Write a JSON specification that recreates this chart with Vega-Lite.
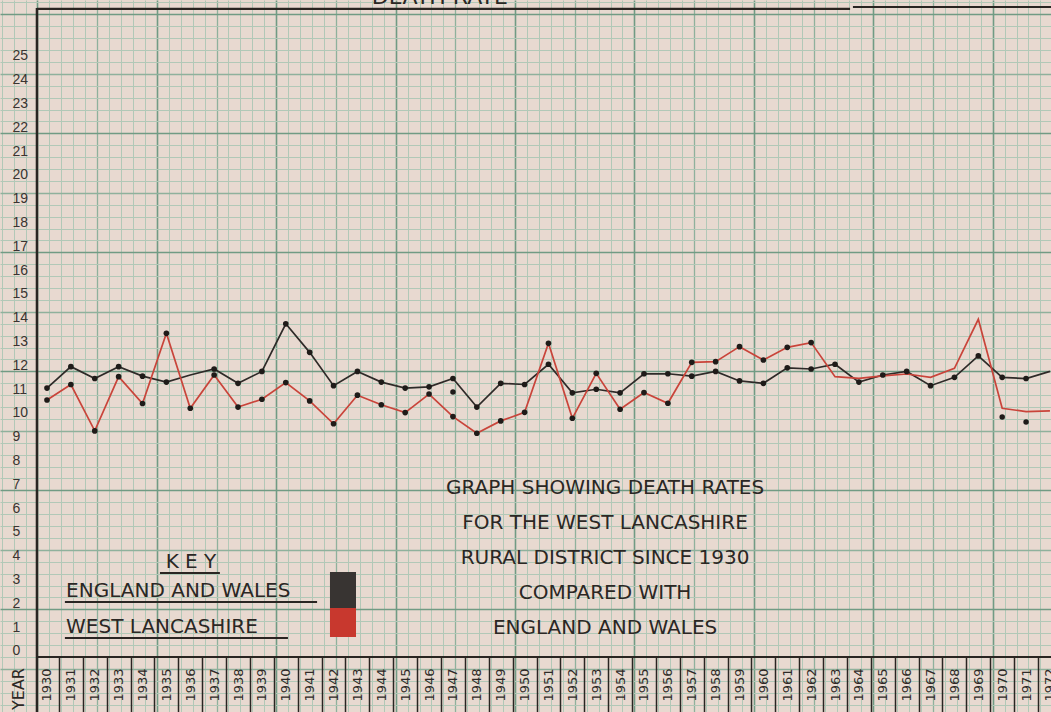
{
  "$schema": "https://vega.github.io/schema/vega-lite/v6.json",
  "width": 1051,
  "height": 712,
  "autosize": {"type": "none"},
  "padding": 0,
  "background": "#e8d9d0",
  "config": {"view": {"stroke": null}, "axis": {"domain": false, "title": null}},
  "datasets": {
    "rates": [
      {"year": 1930, "series": "England and Wales", "rate": 11.3},
      {"year": 1931, "series": "England and Wales", "rate": 12.2},
      {"year": 1932, "series": "England and Wales", "rate": 11.7},
      {"year": 1933, "series": "England and Wales", "rate": 12.2},
      {"year": 1934, "series": "England and Wales", "rate": 11.8},
      {"year": 1935, "series": "England and Wales", "rate": 11.55},
      {"year": 1936, "series": "England and Wales", "rate": 11.85},
      {"year": 1937, "series": "England and Wales", "rate": 12.1},
      {"year": 1938, "series": "England and Wales", "rate": 11.5},
      {"year": 1939, "series": "England and Wales", "rate": 12.0},
      {"year": 1940, "series": "England and Wales", "rate": 14.0},
      {"year": 1941, "series": "England and Wales", "rate": 12.8},
      {"year": 1942, "series": "England and Wales", "rate": 11.4},
      {"year": 1943, "series": "England and Wales", "rate": 12.0},
      {"year": 1944, "series": "England and Wales", "rate": 11.55},
      {"year": 1945, "series": "England and Wales", "rate": 11.3},
      {"year": 1946, "series": "England and Wales", "rate": 11.35},
      {"year": 1947, "series": "England and Wales", "rate": 11.7},
      {"year": 1948, "series": "England and Wales", "rate": 10.5},
      {"year": 1949, "series": "England and Wales", "rate": 11.5},
      {"year": 1950, "series": "England and Wales", "rate": 11.45},
      {"year": 1951, "series": "England and Wales", "rate": 12.3},
      {"year": 1952, "series": "England and Wales", "rate": 11.1},
      {"year": 1953, "series": "England and Wales", "rate": 11.25},
      {"year": 1954, "series": "England and Wales", "rate": 11.1},
      {"year": 1955, "series": "England and Wales", "rate": 11.9},
      {"year": 1956, "series": "England and Wales", "rate": 11.9},
      {"year": 1957, "series": "England and Wales", "rate": 11.8},
      {"year": 1958, "series": "England and Wales", "rate": 12.0},
      {"year": 1959, "series": "England and Wales", "rate": 11.6},
      {"year": 1960, "series": "England and Wales", "rate": 11.5},
      {"year": 1961, "series": "England and Wales", "rate": 12.15},
      {"year": 1962, "series": "England and Wales", "rate": 12.1},
      {"year": 1963, "series": "England and Wales", "rate": 12.3},
      {"year": 1964, "series": "England and Wales", "rate": 11.55},
      {"year": 1965, "series": "England and Wales", "rate": 11.85},
      {"year": 1966, "series": "England and Wales", "rate": 12.0},
      {"year": 1967, "series": "England and Wales", "rate": 11.4},
      {"year": 1968, "series": "England and Wales", "rate": 11.75},
      {"year": 1969, "series": "England and Wales", "rate": 12.65},
      {"year": 1970, "series": "England and Wales", "rate": 11.75},
      {"year": 1971, "series": "England and Wales", "rate": 11.7},
      {"year": 1972, "series": "England and Wales", "rate": 12.0},
      {"year": 1930, "series": "West Lancashire", "rate": 10.8},
      {"year": 1931, "series": "West Lancashire", "rate": 11.45},
      {"year": 1932, "series": "West Lancashire", "rate": 9.5},
      {"year": 1933, "series": "West Lancashire", "rate": 11.78},
      {"year": 1934, "series": "West Lancashire", "rate": 10.65},
      {"year": 1935, "series": "West Lancashire", "rate": 13.6},
      {"year": 1936, "series": "West Lancashire", "rate": 10.45},
      {"year": 1937, "series": "West Lancashire", "rate": 11.85},
      {"year": 1938, "series": "West Lancashire", "rate": 10.5},
      {"year": 1939, "series": "West Lancashire", "rate": 10.83},
      {"year": 1940, "series": "West Lancashire", "rate": 11.53},
      {"year": 1941, "series": "West Lancashire", "rate": 10.76},
      {"year": 1942, "series": "West Lancashire", "rate": 9.8},
      {"year": 1943, "series": "West Lancashire", "rate": 11.0},
      {"year": 1944, "series": "West Lancashire", "rate": 10.6},
      {"year": 1945, "series": "West Lancashire", "rate": 10.27},
      {"year": 1946, "series": "West Lancashire", "rate": 11.05},
      {"year": 1947, "series": "West Lancashire", "rate": 10.1},
      {"year": 1948, "series": "West Lancashire", "rate": 9.4},
      {"year": 1949, "series": "West Lancashire", "rate": 9.92},
      {"year": 1950, "series": "West Lancashire", "rate": 10.28},
      {"year": 1951, "series": "West Lancashire", "rate": 13.18},
      {"year": 1952, "series": "West Lancashire", "rate": 10.03},
      {"year": 1953, "series": "West Lancashire", "rate": 11.92},
      {"year": 1954, "series": "West Lancashire", "rate": 10.41},
      {"year": 1955, "series": "West Lancashire", "rate": 11.11},
      {"year": 1956, "series": "West Lancashire", "rate": 10.66},
      {"year": 1957, "series": "West Lancashire", "rate": 12.38},
      {"year": 1958, "series": "West Lancashire", "rate": 12.41},
      {"year": 1959, "series": "West Lancashire", "rate": 13.04},
      {"year": 1960, "series": "West Lancashire", "rate": 12.48},
      {"year": 1961, "series": "West Lancashire", "rate": 13.01},
      {"year": 1962, "series": "West Lancashire", "rate": 13.21},
      {"year": 1963, "series": "West Lancashire", "rate": 11.78},
      {"year": 1964, "series": "West Lancashire", "rate": 11.71},
      {"year": 1965, "series": "West Lancashire", "rate": 11.81},
      {"year": 1966, "series": "West Lancashire", "rate": 11.89},
      {"year": 1967, "series": "West Lancashire", "rate": 11.75},
      {"year": 1968, "series": "West Lancashire", "rate": 12.13},
      {"year": 1969, "series": "West Lancashire", "rate": 14.19},
      {"year": 1970, "series": "West Lancashire", "rate": 10.45},
      {"year": 1971, "series": "West Lancashire", "rate": 10.31},
      {"year": 1972, "series": "West Lancashire", "rate": 10.34}
    ],
    "stray": [
      {"year": 1947, "rate": 11.13},
      {"year": 1970, "rate": 10.08},
      {"year": 1971, "rate": 9.87}
    ]
  },
  "resolve": {"axis": {"x": "independent", "y": "independent"}},
  "layer": [
    {
      "data": {"values": [{}]},
      "mark": {"type": "point", "opacity": 0},
      "encoding": {
        "x": {
          "datum": 1950, "type": "quantitative",
          "scale": {"domain": [1928.032, 1972.044], "nice": false, "zero": false},
          "axis": {
            "orient": "bottom", "grid": true, "gridColor": "#b2c8b7", "gridWidth": 1, "gridOpacity": 1,
            "labels": false, "ticks": false, "domain": false, "title": null,
            "values": [1928.1,1928.6,1929.1,1930.1,1930.6,1931.1,1931.6,1932.6,1933.1,1933.6,1934.1,1935.1,1935.6,1936.1,1936.6,1937.6,1938.1,1938.6,1939.1,1940.1,1940.6,1941.1,1941.6,1942.6,1943.1,1943.6,1944.1,1945.1,1945.6,1946.1,1946.6,1947.6,1948.1,1948.6,1949.1,1950.1,1950.6,1951.1,1951.6,1952.6,1953.1,1953.6,1954.1,1955.1,1955.6,1956.1,1956.6,1957.6,1958.1,1958.6,1959.1,1960.1,1960.6,1961.1,1961.6,1962.6,1963.1,1963.6,1964.1,1965.1,1965.6,1966.1,1966.6,1967.6,1968.1,1968.6,1969.1,1970.1,1970.6,1971.1,1971.6]
          }
        },
        "y": {
          "datum": 10, "type": "quantitative",
          "scale": {"domain": [-2.311, 27.605], "nice": false, "zero": false},
          "axis": {
            "orient": "left", "grid": true, "gridColor": "#b2c8b7", "gridWidth": 1, "gridOpacity": 1,
            "labels": false, "ticks": false, "domain": false, "title": null,
            "values": [-2,-1.5,-1,0,0.5,1,1.5,2.5,3,3.5,4,5,5.5,6,6.5,7.5,8,8.5,9,10,10.5,11,11.5,12.5,13,13.5,14,15,15.5,16,16.5,17.5,18,18.5,19,20,20.5,21,21.5,22.5,23,23.5,24,25,25.5,26,26.5,27.5]
          }
        }
      }
    },
    {
      "data": {"values": [{}]},
      "mark": {"type": "point", "opacity": 0},
      "encoding": {
        "x": {
          "datum": 1950, "type": "quantitative",
          "scale": {"domain": [1928.032, 1972.044], "nice": false, "zero": false},
          "axis": {
            "orient": "bottom", "grid": true, "gridColor": "#8fb19c", "gridWidth": 1.3, "gridOpacity": 1,
            "labels": false, "ticks": false, "domain": false, "title": null,
            "values": [1932.1,1937.1,1942.1,1947.1,1952.1,1957.1,1962.1,1967.1]
          }
        },
        "y": {
          "datum": 10, "type": "quantitative",
          "scale": {"domain": [-2.311, 27.605], "nice": false, "zero": false},
          "axis": {
            "orient": "left", "grid": true, "gridColor": "#8fb19c", "gridWidth": 1.3, "gridOpacity": 1,
            "labels": false, "ticks": false, "domain": false, "title": null,
            "values": [-0.5,4.5,9.5,14.5,19.5,24.5]
          }
        }
      }
    },
    {
      "data": {"values": [{}]},
      "mark": {"type": "point", "opacity": 0},
      "encoding": {
        "x": {
          "datum": 1950, "type": "quantitative",
          "scale": {"domain": [1928.032, 1972.044], "nice": false, "zero": false},
          "axis": {
            "orient": "bottom", "grid": true, "gridColor": "#719b84", "gridWidth": 1.6, "gridOpacity": 1,
            "labels": false, "ticks": false, "domain": false, "title": null,
            "values": [1929.6,1934.6,1939.6,1944.6,1949.6,1954.6,1959.6,1964.6,1969.6]
          }
        },
        "y": {
          "datum": 10, "type": "quantitative",
          "scale": {"domain": [-2.311, 27.605], "nice": false, "zero": false},
          "axis": {
            "orient": "left", "grid": true, "gridColor": "#719b84", "gridWidth": 1.6, "gridOpacity": 1,
            "labels": false, "ticks": false, "domain": false, "title": null,
            "values": [2,7,12,17,22,27]
          }
        }
      }
    },
    {
      "data": {"name": "rates"},
      "mark": {"type": "line", "strokeWidth": 1.7},
      "encoding": {
        "x": {
          "field": "year", "type": "quantitative",
          "scale": {"domain": [1928.032, 1972.044], "nice": false, "zero": false},
          "axis": null
        },
        "y": {
          "field": "rate", "type": "quantitative",
          "scale": {"domain": [-2.311, 27.605], "nice": false, "zero": false},
          "axis": null
        },
        "color": {
          "field": "series", "type": "nominal",
          "scale": {"domain": ["England and Wales", "West Lancashire"], "range": ["#2e2a28", "#c9443a"]},
          "legend": null
        }
      }
    },
    {
      "data": {"name": "rates"},
      "transform": [{"filter": "datum.series === 'England and Wales' ? (datum.year !== 1936 && datum.year !== 1972) : datum.year <= 1962"}],
      "mark": {"type": "circle", "size": 32, "color": "#1f1b19", "opacity": 1},
      "encoding": {
        "x": {
          "field": "year", "type": "quantitative",
          "scale": {"domain": [1928.032, 1972.044], "nice": false, "zero": false},
          "axis": {
            "orient": "bottom", "offset": -55, "grid": false, "ticks": false, "tickSize": 0, "domain": false, "title": null,
            "values": [1930,1931,1932,1933,1934,1935,1936,1937,1938,1939,1940,1941,1942,1943,1944,1945,1946,1947,1948,1949,1950,1951,1952,1953,1954,1955,1956,1957,1958,1959,1960,1961,1962,1963,1964,1965,1966,1967,1968,1969,1970,1971,1972],
            "format": "d", "labelAngle": -90, "labelAlign": "right", "labelBaseline": "middle", "labelPadding": 11,
            "labelFont": "DejaVu Sans", "labelFontSize": 13, "labelColor": "#2f2a27",
            "labelOverlap": false, "labelFlush": false, "labelBound": false
          }
        },
        "y": {
          "field": "rate", "type": "quantitative",
          "scale": {"domain": [-2.311, 27.605], "nice": false, "zero": false},
          "axis": {
            "orient": "left", "offset": -37, "grid": false, "ticks": false, "tickSize": 0, "domain": false, "title": null,
            "values": [0,1,2,3,4,5,6,7,8,9,10,11,12,13,14,15,16,17,18,19,20,21,22,23,24,25],
            "labelAlign": "left", "labelPadding": 25, "labelOffset": -6, "labelBaseline": "middle",
            "labelFont": "Liberation Sans", "labelFontSize": 14, "labelColor": "#3a3431",
            "labelOverlap": false, "labelFlush": false, "labelBound": false
          }
        }
      }
    },
    {
      "data": {"name": "stray"},
      "mark": {"type": "circle", "size": 30, "color": "#1f1b19", "opacity": 1},
      "encoding": {
        "x": {
          "field": "year", "type": "quantitative",
          "scale": {"domain": [1928.032, 1972.044], "nice": false, "zero": false},
          "axis": {
            "orient": "bottom", "offset": -55, "grid": false, "labels": false, "ticks": true, "tickSize": 55,
            "tickWidth": 1.5, "tickColor": "#2a2522", "domain": false, "title": null,
            "values": [1930.5,1931.5,1932.5,1933.5,1934.5,1935.5,1936.5,1937.5,1938.5,1939.5,1940.5,1941.5,1942.5,1943.5,1944.5,1945.5,1946.5,1947.5,1948.5,1949.5,1950.5,1951.5,1952.5,1953.5,1954.5,1955.5,1956.5,1957.5,1958.5,1959.5,1960.5,1961.5,1962.5,1963.5,1964.5,1965.5,1966.5,1967.5,1968.5,1969.5,1970.5,1971.5]
          }
        },
        "y": {
          "field": "rate", "type": "quantitative",
          "scale": {"domain": [-2.311, 27.605], "nice": false, "zero": false},
          "axis": null
        }
      }
    },
    {
      "data": {"values": [{}]},
      "mark": {"type": "rule", "strokeWidth": 2.5, "color": "#2a2522"},
      "encoding": {
        "x": {"datum": 1929.58, "type": "quantitative", "scale": {"domain": [1928.032, 1972.044], "nice": false, "zero": false}, "axis": null},
        "y": {"datum": 27.27, "type": "quantitative", "scale": {"domain": [-2.311, 27.605], "nice": false, "zero": false}, "axis": null},
        "y2": {"datum": -2.311}
      }
    },
    {
      "data": {"values": [{}]},
      "mark": {"type": "rule", "strokeWidth": 2, "color": "#2a2522"},
      "encoding": {
        "x": {"datum": 1929.58, "type": "quantitative", "scale": {"domain": [1928.032, 1972.044], "nice": false, "zero": false}, "axis": null},
        "x2": {"datum": 1972.044},
        "y": {"datum": 0, "type": "quantitative", "scale": {"domain": [-2.311, 27.605], "nice": false, "zero": false}, "axis": null}
      }
    },
    {
      "data": {"values": [{}]},
      "mark": {"type": "rule", "strokeWidth": 2.2, "color": "#2a2522"},
      "encoding": {
        "x": {"datum": 1929.58, "type": "quantitative", "scale": {"domain": [1928.032, 1972.044], "nice": false, "zero": false}, "axis": null},
        "x2": {"datum": 1963.63},
        "y": {"datum": 27.23, "type": "quantitative", "scale": {"domain": [-2.311, 27.605], "nice": false, "zero": false}, "axis": null}
      }
    },
    {
      "data": {"values": [{}]},
      "mark": {"type": "rule", "strokeWidth": 2.2, "color": "#2a2522"},
      "encoding": {
        "x": {"datum": 1963.75, "type": "quantitative", "scale": {"domain": [1928.032, 1972.044], "nice": false, "zero": false}, "axis": null},
        "x2": {"datum": 1972.044},
        "y": {"datum": 27.31, "type": "quantitative", "scale": {"domain": [-2.311, 27.605], "nice": false, "zero": false}, "axis": null}
      }
    },
    {
      "data": {"values": [{}]},
      "mark": {"type": "rule", "strokeWidth": 2, "color": "#2a2522"},
      "encoding": {
        "x": {"datum": 1934.73, "type": "quantitative", "scale": {"domain": [1928.032, 1972.044], "nice": false, "zero": false}, "axis": null},
        "x2": {"datum": 1937.24},
        "y": {"datum": 3.53, "type": "quantitative", "scale": {"domain": [-2.311, 27.605], "nice": false, "zero": false}, "axis": null}
      }
    },
    {
      "data": {"values": [{}]},
      "mark": {"type": "rule", "strokeWidth": 2, "color": "#2a2522"},
      "encoding": {
        "x": {"datum": 1930.75, "type": "quantitative", "scale": {"domain": [1928.032, 1972.044], "nice": false, "zero": false}, "axis": null},
        "x2": {"datum": 1941.31},
        "y": {"datum": 2.31, "type": "quantitative", "scale": {"domain": [-2.311, 27.605], "nice": false, "zero": false}, "axis": null}
      }
    },
    {
      "data": {"values": [{}]},
      "mark": {"type": "rule", "strokeWidth": 2, "color": "#2a2522"},
      "encoding": {
        "x": {"datum": 1930.75, "type": "quantitative", "scale": {"domain": [1928.032, 1972.044], "nice": false, "zero": false}, "axis": null},
        "x2": {"datum": 1940.09},
        "y": {"datum": 0.8, "type": "quantitative", "scale": {"domain": [-2.311, 27.605], "nice": false, "zero": false}, "axis": null}
      }
    },
    {
      "data": {"values": [{}]},
      "mark": {"type": "rect", "color": "#383432"},
      "encoding": {
        "x": {"datum": 1941.85, "type": "quantitative", "scale": {"domain": [1928.032, 1972.044], "nice": false, "zero": false}, "axis": null},
        "x2": {"datum": 1942.94},
        "y": {"datum": 3.57, "type": "quantitative", "scale": {"domain": [-2.311, 27.605], "nice": false, "zero": false}, "axis": null},
        "y2": {"datum": 2.06}
      }
    },
    {
      "data": {"values": [{}]},
      "mark": {"type": "rect", "color": "#c8382e"},
      "encoding": {
        "x": {"datum": 1941.85, "type": "quantitative", "scale": {"domain": [1928.032, 1972.044], "nice": false, "zero": false}, "axis": null},
        "x2": {"datum": 1942.94},
        "y": {"datum": 2.06, "type": "quantitative", "scale": {"domain": [-2.311, 27.605], "nice": false, "zero": false}, "axis": null},
        "y2": {"datum": 0.84}
      }
    },
    {
      "data": {"values": [{}]},
      "mark": {"type": "text", "text": "DEATH RATE", "font": "DejaVu Sans", "fontSize": 22, "color": "#2b2724", "align": "center", "baseline": "alphabetic"},
      "encoding": {
        "x": {"datum": 1946.45, "type": "quantitative", "scale": {"domain": [1928.032, 1972.044], "nice": false, "zero": false}, "axis": null},
        "y": {"datum": 27.42, "type": "quantitative", "scale": {"domain": [-2.311, 27.605], "nice": false, "zero": false}, "axis": null}
      }
    },
    {
      "data": {"values": [{}]},
      "mark": {"type": "text", "text": ["GRAPH SHOWING DEATH RATES", "FOR THE WEST LANCASHIRE", "RURAL DISTRICT SINCE 1930", "COMPARED WITH", "ENGLAND AND WALES"], "lineHeight": 35, "font": "DejaVu Sans", "fontSize": 20, "color": "#2b2724", "align": "center", "baseline": "middle"},
      "encoding": {
        "x": {"datum": 1953.37, "type": "quantitative", "scale": {"domain": [1928.032, 1972.044], "nice": false, "zero": false}, "axis": null},
        "y": {"datum": 7.1, "type": "quantitative", "scale": {"domain": [-2.311, 27.605], "nice": false, "zero": false}, "axis": null}
      }
    },
    {
      "data": {"values": [{}]},
      "mark": {"type": "text", "text": "K E Y", "font": "DejaVu Sans", "fontSize": 20, "color": "#2b2724", "align": "center", "baseline": "middle"},
      "encoding": {
        "x": {"datum": 1936.03, "type": "quantitative", "scale": {"domain": [1928.032, 1972.044], "nice": false, "zero": false}, "axis": null},
        "y": {"datum": 3.99, "type": "quantitative", "scale": {"domain": [-2.311, 27.605], "nice": false, "zero": false}, "axis": null}
      }
    },
    {
      "data": {"values": [{}]},
      "mark": {"type": "text", "text": "ENGLAND AND WALES", "font": "DejaVu Sans", "fontSize": 20, "color": "#2b2724", "align": "left", "baseline": "middle"},
      "encoding": {
        "x": {"datum": 1930.8, "type": "quantitative", "scale": {"domain": [1928.032, 1972.044], "nice": false, "zero": false}, "axis": null},
        "y": {"datum": 2.77, "type": "quantitative", "scale": {"domain": [-2.311, 27.605], "nice": false, "zero": false}, "axis": null}
      }
    },
    {
      "data": {"values": [{}]},
      "mark": {"type": "text", "text": "WEST LANCASHIRE", "font": "DejaVu Sans", "fontSize": 20, "color": "#2b2724", "align": "left", "baseline": "middle"},
      "encoding": {
        "x": {"datum": 1930.8, "type": "quantitative", "scale": {"domain": [1928.032, 1972.044], "nice": false, "zero": false}, "axis": null},
        "y": {"datum": 1.26, "type": "quantitative", "scale": {"domain": [-2.311, 27.605], "nice": false, "zero": false}, "axis": null}
      }
    },
    {
      "data": {"values": [{}]},
      "mark": {"type": "text", "text": "YEAR", "font": "DejaVu Sans", "fontSize": 16, "color": "#2b2724", "align": "center", "baseline": "middle", "angle": 270},
      "encoding": {
        "x": {"datum": 1928.83, "type": "quantitative", "scale": {"domain": [1928.032, 1972.044], "nice": false, "zero": false}, "axis": null},
        "y": {"datum": -1.345, "type": "quantitative", "scale": {"domain": [-2.311, 27.605], "nice": false, "zero": false}, "axis": null}
      }
    }
  ]
}
